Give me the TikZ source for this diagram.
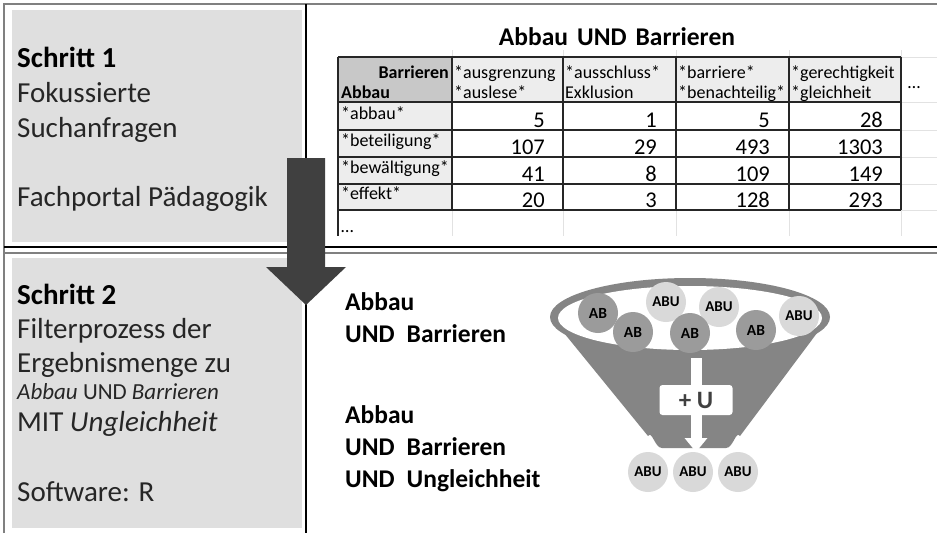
\documentclass[tikz,border=0pt]{standalone}
\usepackage{fontspec}
\setmainfont{Carlito}
\usetikzlibrary{arrows.meta}
\definecolor{boxgray}{HTML}{DFDFDF}
\definecolor{arrowgray}{HTML}{404040}
\definecolor{framegray}{HTML}{808080}
\definecolor{hdrdark}{HTML}{C8C8C8}
\definecolor{hdrlight}{HTML}{EDEDED}
\definecolor{gridfaint}{HTML}{E2E2E2}
\definecolor{funnelgray}{HTML}{858585}
\definecolor{abgray}{HTML}{9B9B9B}
\definecolor{abugray}{HTML}{D9D9D9}
\begin{document}
\begin{tikzpicture}[x=1pt,y=-1pt,
  steptxt/.style={anchor=base west,inner sep=0pt,font=\fontsize{29}{34}\selectfont,text=black!85},
  stephead/.style={anchor=base west,inner sep=0pt,font=\fontsize{29}{34}\selectfont\bfseries,text=black},
  smalltxt/.style={anchor=base west,inner sep=0pt,font=\fontsize{23}{27}\selectfont,text=black!85},
  qtxt/.style={anchor=base west,inner sep=0pt,font=\fontsize{25.5}{30}\selectfont\bfseries},
  celltxt/.style={anchor=base west,inner sep=0pt,font=\fontsize{18}{21}\selectfont},
  numtxt/.style={anchor=base east,inner sep=0pt,font=\fontsize{22.5}{26}\selectfont},
  tline/.style={line width=1.1pt,draw=black!85},
  faint/.style={line width=0.8pt,draw=gridfaint},
  ballab/.style={circle,fill=abgray,minimum size=40pt,inner sep=0pt,font=\fontsize{15.5}{18}\selectfont\bfseries},
  ballabu/.style={circle,fill=abugray,minimum size=40pt,inner sep=0pt,font=\fontsize{15}{18}\selectfont\bfseries}]
\useasboundingbox (0,0) rectangle (937,533);
\fill[white] (0,0) rectangle (937,533);
% left grey boxes
\fill[boxgray] (12,10) rectangle (302,242);
\fill[boxgray] (12,258) rectangle (302,528);
% frame
\draw[framegray,line width=2pt] (4,533) -- (4,4) -- (937,4);
\draw[black,line width=1.5pt] (306,4) -- (306,533);
\draw[black,line width=1.2pt] (4,247) -- (937,247);
\draw[framegray,line width=2.2pt] (4,253) -- (937,253);

% step 1 texts
\node[stephead] (s1) at (17,67) {Schritt 1};
\node[steptxt] (s1a) at (17,102) {Fokussierte};
\node[steptxt] (s1b) at (17,137) {Suchanfragen};
\node[steptxt] (s1c) at (17,206) {Fachportal Pädagogik};

% step 2 texts
\node[stephead] (s2) at (17,304) {Schritt 2};
\node[steptxt] (s2a) at (17,338) {Filterprozess der};
\node[steptxt] (s2b) at (17,372) {Ergebnismenge zu};
\node[smalltxt] (s2c) at (17,399) {\itshape Abbau \upshape UND \itshape Barrieren};
\node[steptxt] (s2d) at (17,431) {MIT \itshape Ungleichheit};
\node[steptxt] (s2e) at (17,501) {Software: R};

% table title
\node[anchor=base,inner sep=0pt,font=\fontsize{25.5}{30}\selectfont\bfseries] (ttl) at (617,45) {Abbau\hspace{9pt}UND\hspace{9pt}Barrieren};

% faint grid outside table
\foreach \x in {452,563,676,789,901} \draw[faint] (\x,50) -- (\x,236);
\foreach \y in {57,102,130,157,184,210} \draw[faint] (901,\y) -- (937,\y);
\draw[faint] (338,210) -- (901,210);
% table fills
\fill[hdrdark] (338,57) rectangle (452,102);
\fill[hdrlight] (452,57) rectangle (901,102);
\fill[hdrlight] (338,102) rectangle (452,210);
% table grid
\foreach \y in {57,102,130,157,184,210} \draw[tline] (338,\y) -- (901,\y);
\foreach \x in {338,452,563,676,789,901} \draw[tline] (\x,57) -- (\x,210);
\draw[tline] (338,210) -- (338,236);

% header texts
\node[anchor=base east,inner sep=0pt,font=\fontsize{18}{21}\selectfont\bfseries] (hB) at (449,78) {Barrieren};
\node[anchor=base west,inner sep=0pt,font=\fontsize{18}{21}\selectfont\bfseries] (hA) at (341,98) {Abbau};
\node[celltxt] (h1a) at (454,78) {*ausgrenzung};
\node[celltxt] (h1b) at (454,98) {*auslese*};
\node[celltxt] (h2a) at (565,78) {*ausschluss*};
\node[celltxt] (h2b) at (565,98) {Exklusion};
\node[celltxt] (h3a) at (678,78) {*barriere*};
\node[celltxt] (h3b) at (678,98) {*benachteilig*};
\node[celltxt] (h4a) at (791,78) {*gerechtigkeit};
\node[celltxt] (h4b) at (791,98) {*gleichheit};
\node[anchor=base,inner sep=0pt,font=\fontsize{18}{21}\selectfont] (hdots) at (914,88) {…};

% row labels
\node[celltxt] (r1) at (341,119) {*abbau*};
\node[celltxt] (r2) at (341,146) {*beteiligung*};
\node[celltxt] (r3) at (341,173) {*bewältigung*};
\node[celltxt] (r4) at (341,199) {*effekt*};
\node[celltxt] (r5) at (341,232) {…};

% numbers
\node[numtxt] (n11) at (545,127) {5};
\node[numtxt] (n12) at (657,127) {1};
\node[numtxt] (n13) at (770,127) {5};
\node[numtxt] (n14) at (883,127) {28};
\node[numtxt] (n21) at (545,154) {107};
\node[numtxt] (n22) at (657,154) {29};
\node[numtxt] (n23) at (770,154) {493};
\node[numtxt] (n24) at (883,154) {1303};
\node[numtxt] (n31) at (545,181) {41};
\node[numtxt] (n32) at (657,181) {8};
\node[numtxt] (n33) at (770,181) {109};
\node[numtxt] (n34) at (883,181) {149};
\node[numtxt] (n41) at (545,207) {20};
\node[numtxt] (n42) at (657,207) {3};
\node[numtxt] (n43) at (770,207) {128};
\node[numtxt] (n44) at (883,207) {293};

% big arrow
\fill[arrowgray] (287,158) -- (325,158) -- (325,267) -- (346,267) -- (306,305) -- (266,267) -- (287,267) -- cycle;

% right queries
\node[qtxt] (q1a) at (345,310) {Abbau};
\node[qtxt] (q1b) at (345,342) {UND\hspace{12pt}Barrieren};
\node[qtxt] (q2a) at (345,423) {Abbau};
\node[qtxt] (q2b) at (345,455) {UND\hspace{12pt}Barrieren};
\node[qtxt] (q2c) at (345,487) {UND\hspace{12pt}Ungleichheit};

% funnel
\fill[funnelgray] (551,317) -- (648,436) to[out=55,in=180] (662,448) -- (726,448) to[out=0,in=125] (740,436) -- (829,317) -- cycle;
\fill[funnelgray] (690,317) ellipse [x radius=140,y radius=39];
\fill[white] (690,318) ellipse [x radius=132,y radius=32];

\node[ballab] (b1) at (598,313) {AB};
\node[ballabu] (b2) at (666,302) {ABU};
\node[ballabu] (b3) at (719,307) {ABU};
\node[ballabu] (b4) at (799,316) {ABU};
\node[ballab] (b5) at (633,332) {AB};
\node[ballab] (b6) at (690,333) {AB};
\node[ballab] (b7) at (756,330) {AB};

\coordinate (atop) at (696,358);
\coordinate (atip) at (696,452);
\node[fill=white,rounded corners=3pt,minimum width=73pt,minimum height=30pt,inner sep=0pt,text=arrowgray,font=\fontsize{25}{28}\selectfont\bfseries] (pu) at (696,400) {+ U};
\draw[white,line width=11pt] (atop) -- (pu.north);
\draw[white,line width=11pt,-{Triangle[width=22pt,length=14pt]}] (pu.south) -- (atip);

\node[ballabu] (c1) at (648,472) {ABU};
\node[ballabu] (c2) at (693,472) {ABU};
\node[ballabu] (c3) at (738,472) {ABU};
\end{tikzpicture}
\end{document}
